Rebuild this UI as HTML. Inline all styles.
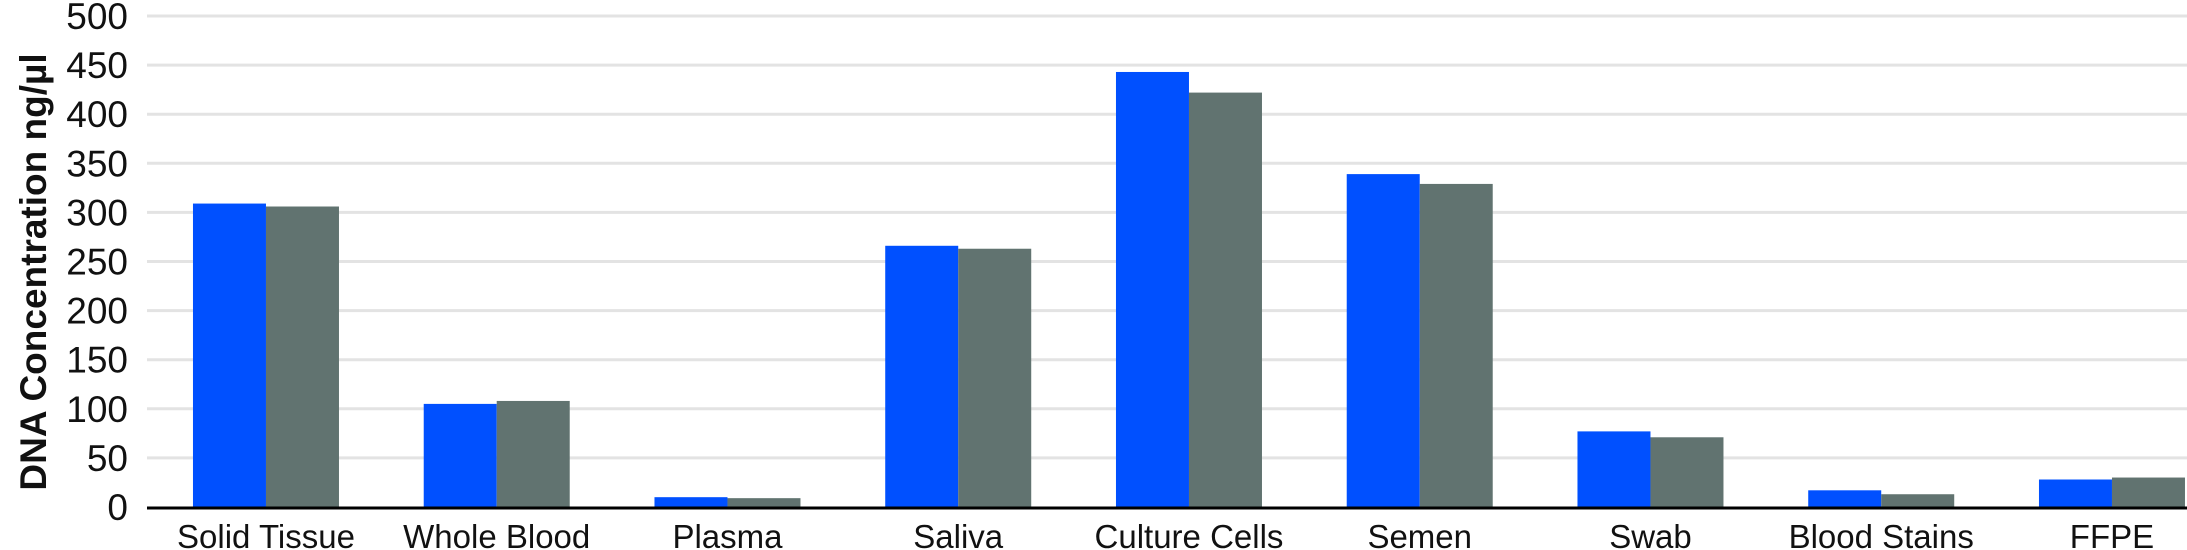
<!DOCTYPE html>
<html><head><meta charset="utf-8"><style>
html,body{margin:0;padding:0;background:#fff;}
svg{display:block;font-family:"Liberation Sans",sans-serif;}
</style></head><body>
<svg id="chart" width="2187" height="550" viewBox="0 0 2187 550">
<g id="grid"></g>
<g id="bars"></g>
<g id="yticks"></g>
<g id="xlabels"></g>
<text transform="translate(46,272) rotate(-90)" text-anchor="middle" font-size="37" font-weight="bold" fill="#111">DNA Concentration ng/µl</text>
</svg>
<script>
const categories = ["Solid Tissue","Whole Blood","Plasma","Saliva","Culture Cells","Semen","Swab","Blood Stains","FFPE"];
const seriesA = [309,105,10,266,443,339,77,17,28];
const seriesB = [306,108,9,263,422,329,71,13,30];
const yTicks = [0,50,100,150,200,250,300,350,400,450,500];

const NS="http://www.w3.org/2000/svg";
const y0=507, y500=16, plotL=147, plotR=2187, bandStart=150.6, bandW=230.75, barW=73;
function yScale(v){return y0-(v/500)*(y0-y500);}
function xBand(i){return bandStart+i*bandW;}
function mk(tag,attrs,parent){const e=document.createElementNS(NS,tag);for(const k in attrs)e.setAttribute(k,attrs[k]);parent.appendChild(e);return e;}
const grid=document.getElementById('grid'),bars=document.getElementById('bars'),yt=document.getElementById('yticks'),xl=document.getElementById('xlabels');
yTicks.forEach(t=>{
  const y=yScale(t);
  if(t>0){const l=mk('line',{x1:plotL,x2:plotR,y1:y,y2:y,stroke:'#e3e3e3','stroke-width':3},grid);
  
  }
  const tx=mk('text',{x:128,y:y+13,'text-anchor':'end','font-size':37,fill:'#111'},yt);
  tx.textContent=t;
  
  
});
categories.forEach((c,i)=>{
  const cx=xBand(i)+bandW/2;
  const a=mk('rect',{x:cx-barW,y:yScale(seriesA[i]),width:barW,height:y0-yScale(seriesA[i]),fill:'#0050ff'},bars);
  
  
  const b=mk('rect',{x:cx,y:yScale(seriesB[i]),width:barW,height:y0-yScale(seriesB[i]),fill:'#617370'},bars);
  
  
  const t=mk('text',{x:cx,y:548,'text-anchor':'middle','font-size':33,fill:'#111'},xl);
  t.textContent=c;
  
  
});
const ax=mk('line',{x1:plotL,x2:plotR,y1:y0+1,y2:y0+1,stroke:'#000','stroke-width':3},document.getElementById('chart'));


</script>
</body></html>
